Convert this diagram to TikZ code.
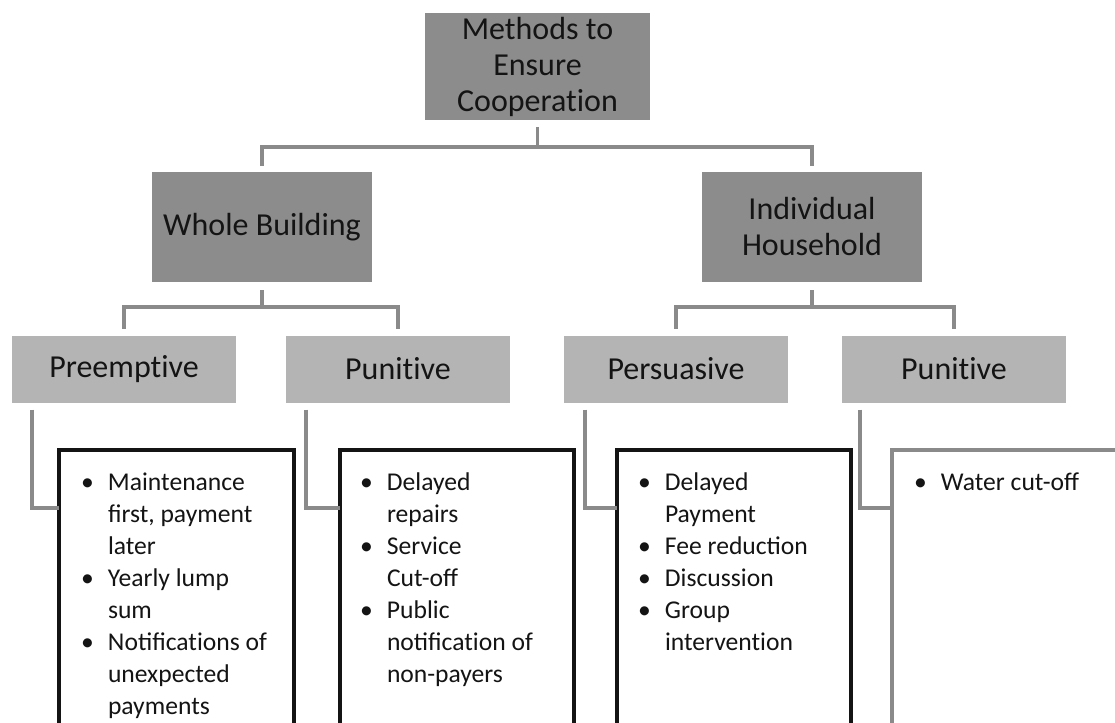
\documentclass[tikz,border=0pt]{standalone}
\usepackage{fontspec}
\setmainfont{Carlito}
\usepackage{array}
\definecolor{headgray}{HTML}{8C8C8C}
\definecolor{subgray}{HTML}{B4B4B4}
\definecolor{linegray}{HTML}{8A8A8A}
\definecolor{ink}{HTML}{141414}
\newcommand{\HeadFont}{\fontsize{32}{36}\selectfont}
\newcommand{\ListFont}{\fontsize{25.6}{32}\selectfont}
\newcommand{\BulList}[1]{
	\begin{tabular}{@{}p{27pt}@{}l@{}}#1\end{tabular}
}
\newcommand{\Itm}{\textbullet &}
\newcommand{\nolig}{\kern0pt{}}

\begin{document}
\begin{tikzpicture}[x=1pt, y=-1pt,
		headbox/.style={fill=headgray, text=ink, inner sep=0pt, outer sep=0pt, align=center, font=\HeadFont, minimum width=220pt, minimum height=110pt},
		subbox/.style={fill=subgray, text=ink, inner sep=0pt, outer sep=0pt, font=\HeadFont, minimum width=224pt, minimum height=67pt},
		listbox/.style={draw=ink, line width=4.5pt, fill=white, inner sep=0pt, outer sep=0pt, anchor=north west, minimum width=235pt, minimum height=320pt},
		listtext/.style={text=ink, inner sep=0pt, outer sep=0pt, anchor=north west, font=\ListFont},
		link/.style={draw=linegray, line width=3.5pt}]
		\useasboundingbox (0,0) rectangle (1115,722);
		\clip (0,0) rectangle (1115,722);
		\node[headbox, minimum width=225pt, minimum height=107pt] (methods) at (537.5,66.5) {Methods to\\Ensure\\Cooperat\nolig ion};
		\node[headbox] (whole) at (262,227) {Whole Building};
		\node[headbox] (indiv) at (812,227) {Individual\\Household};
		\node[subbox] (preempt) at (124,369) {Preempt\nolig ive};
		\node[subbox] (punA) at (398,369) {Punit\nolig ive};
		\node[subbox] (persua) at (676,369) {Persuasive};
		\node[subbox] (punB) at (954,369) {Punit\nolig ive};
		\coordinate (hubTop) at (537.5,147);
		\coordinate (hubWhole) at (262,307);
		\coordinate (hubIndiv) at (812,307);
		\draw[link] ([yshift=-7pt]methods.south) -- (hubTop);
		\draw[link] ([yshift=6pt]whole.north) |- (hubTop) -| ([yshift=6pt]indiv.north);
		\draw[link] ([yshift=-8pt]whole.south) -- (hubWhole);
		\draw[link] ([yshift=7pt]preempt.north) |- (hubWhole) -| ([yshift=7pt]punA.north);
		\draw[link] ([yshift=-8pt]indiv.south) -- (hubIndiv);
		\draw[link] ([yshift=7pt]persua.north) |- (hubIndiv) -| ([yshift=7pt]punB.north);
		\node[listbox] (listA) at (59,450) {};
		\node[listbox, minimum width=234pt] (listB) at (340,450) {};
		\node[listbox, minimum width=234pt] (listC) at (617,450) {};
		\node[listbox, draw=linegray, minimum width=260pt] (listD) at (892,450) {};
		\draw[link] ([xshift=20pt,yshift=-7pt]preempt.south west) |- ([yshift=-58pt]listA.north west);
		\draw[link] ([xshift=20pt,yshift=-7pt]punA.south west) |- ([yshift=-58pt]listB.north west);
		\draw[link] ([xshift=21pt,yshift=-7pt]persua.south west) |- ([yshift=-58pt]listC.north west);
		\draw[link] ([xshift=18pt,yshift=-7pt]punB.south west) |- ([yshift=-58pt]listD.north west);
		\node[listtext] (itemsA) at ([xshift=22pt,yshift=-18.5pt]listA.north west) {\BulList{\Itm Maintenance\\ & first, payment\\ & later\\ \Itm Yearly lump\\ & sum\\ \Itm Notificat\nolig ions of\\ & unexpected\\ & payments}};
		\node[listtext] (itemsB) at ([xshift=20pt,yshift=-18.5pt]listB.north west) {\BulList{\Itm Delayed\\ & repairs\\ \Itm Service\\ & Cut-off\\ \Itm Public\\ & notificat\nolig ion of\\ & non-payers}};
		\node[listtext] (itemsC) at ([xshift=21pt,yshift=-18.5pt]listC.north west) {\BulList{\Itm Delayed\\ & Payment\\ \Itm Fee reduction\\ \Itm Discussion\\ \Itm Group\\ & intervent\nolig ion}};
		\node[listtext] (itemsD) at ([xshift=22pt,yshift=-18.5pt]listD.north west) {\BulList{\Itm Water cut-off}};
	\end{tikzpicture}
\end{document}
